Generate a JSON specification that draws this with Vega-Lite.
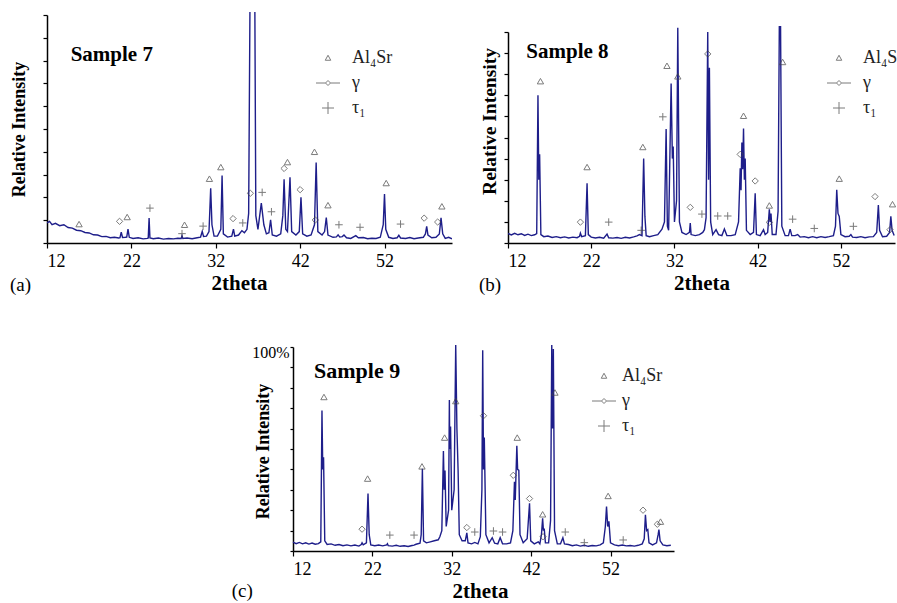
{
"$schema": "https://vega.github.io/schema/vega-lite/v6.json",
"padding": {"left": 10, "top": 12, "right": 0, "bottom": 0},
"config": {
  "view": {"stroke": null},
  "font": "Liberation Serif",
  "axis": {"grid": false, "domainColor": "black", "domainWidth": 1.5, "tickColor": "black", "tickWidth": 1.2, "labelFont": "Liberation Serif", "titleFont": "Liberation Serif", "labelColor": "black", "titleColor": "black"},
  "legend": {"labelFont": "Liberation Serif", "labelFontSize": 18, "labelColor": "#222", "padding": 0, "rowPadding": 7, "labelOffset": 15, "symbolStrokeColor": "#444", "symbolStrokeWidth": 1, "symbolFillColor": "transparent"}
},
"datasets": {
  "sa": [{"x":12.0,"y":8.8},{"x":12.3,"y":9.5},{"x":12.6,"y":8.0},{"x":13.0,"y":8.6},{"x":13.5,"y":7.6},{"x":14.0,"y":8.0},{"x":14.5,"y":6.8},{"x":15.0,"y":6.5},{"x":15.5,"y":5.6},{"x":16.0,"y":5.4},{"x":16.5,"y":4.6},{"x":17.0,"y":4.4},{"x":17.5,"y":3.6},{"x":18.0,"y":3.5},{"x":18.5,"y":2.8},{"x":19.0,"y":2.9},{"x":19.5,"y":2.3},{"x":20.0,"y":2.5},{"x":20.5,"y":2.2},{"x":20.65,"y":2.3},{"x":20.8,"y":4.8},{"x":20.95,"y":2.4},{"x":21.3,"y":2.5},{"x":21.45,"y":2.6},{"x":21.6,"y":6.1},{"x":21.75,"y":2.5},{"x":22.2,"y":2.0},{"x":22.8,"y":2.3},{"x":23.4,"y":1.8},{"x":23.9,"y":2.0},{"x":24.0,"y":2.2},{"x":24.1,"y":11},{"x":24.2,"y":2.2},{"x":24.6,"y":1.9},{"x":25.2,"y":2.2},{"x":25.8,"y":1.7},{"x":26.4,"y":2.0},{"x":27.0,"y":1.8},{"x":27.5,"y":2.1},{"x":27.9,"y":2.0},{"x":28.0,"y":3.2},{"x":28.1,"y":2.0},{"x":28.6,"y":2.2},{"x":29.2,"y":1.9},{"x":29.8,"y":2.3},{"x":30.2,"y":2.6},{"x":30.4,"y":5.1},{"x":30.55,"y":2.9},{"x":30.9,"y":3.0},{"x":31.2,"y":5.0},{"x":31.4,"y":24},{"x":31.55,"y":8},{"x":31.8,"y":3.0},{"x":32.2,"y":3.0},{"x":32.6,"y":6},{"x":32.75,"y":29.6},{"x":32.9,"y":4},{"x":33.4,"y":2.6},{"x":33.9,"y":3.0},{"x":34.1,"y":6.1},{"x":34.25,"y":3.0},{"x":34.7,"y":3.5},{"x":35.1,"y":5.4},{"x":35.4,"y":4.5},{"x":35.7,"y":6},{"x":35.9,"y":13},{"x":36.1,"y":130},{"x":36.6,"y":130},{"x":36.75,"y":12},{"x":37.0,"y":6},{"x":37.4,"y":17.5},{"x":37.7,"y":8},{"x":38.0,"y":4},{"x":38.3,"y":4.5},{"x":38.5,"y":10.2},{"x":38.7,"y":3.5},{"x":39.2,"y":3.0},{"x":39.7,"y":4.0},{"x":39.95,"y":12},{"x":40.1,"y":28},{"x":40.3,"y":6},{"x":40.5,"y":5},{"x":40.8,"y":28.8},{"x":41.0,"y":5},{"x":41.5,"y":3.5},{"x":41.9,"y":5},{"x":42.1,"y":20},{"x":42.3,"y":4},{"x":42.8,"y":3.0},{"x":43.3,"y":3.5},{"x":43.7,"y":8},{"x":43.9,"y":35.3},{"x":44.1,"y":5},{"x":44.6,"y":3.5},{"x":44.9,"y":5},{"x":45.1,"y":11.2},{"x":45.3,"y":3.5},{"x":45.9,"y":2.5},{"x":46.3,"y":2.7},{"x":46.5,"y":3.6},{"x":46.7,"y":2.6},{"x":47.0,"y":2.8},{"x":47.2,"y":3.5},{"x":47.5,"y":2.3},{"x":48.0,"y":2.0},{"x":48.6,"y":3.2},{"x":48.9,"y":2.3},{"x":49.5,"y":2.4},{"x":50.0,"y":1.9},{"x":50.5,"y":2.1},{"x":51.0,"y":2.0},{"x":51.5,"y":2.5},{"x":51.85,"y":8},{"x":52.0,"y":21.5},{"x":52.15,"y":6},{"x":52.5,"y":2.5},{"x":53.0,"y":2.0},{"x":53.5,"y":2.3},{"x":53.7,"y":3.4},{"x":53.9,"y":2.2},{"x":54.5,"y":2.0},{"x":55.0,"y":2.4},{"x":55.5,"y":1.9},{"x":56.0,"y":2.2},{"x":56.6,"y":2.5},{"x":56.85,"y":4},{"x":57.0,"y":7.3},{"x":57.15,"y":3.5},{"x":57.6,"y":2.3},{"x":58.1,"y":2.5},{"x":58.5,"y":4},{"x":58.7,"y":11},{"x":58.9,"y":4},{"x":59.2,"y":2.0},{"x":59.6,"y":2.5},{"x":60.0,"y":1.8}],
  "sb": [{"x":12.0,"y":4.5},{"x":12.4,"y":3.8},{"x":12.8,"y":4.6},{"x":13.2,"y":3.9},{"x":13.6,"y":4.4},{"x":14.0,"y":3.6},{"x":14.4,"y":4.2},{"x":14.8,"y":3.5},{"x":15.2,"y":3.9},{"x":15.45,"y":4.5},{"x":15.6,"y":70},{"x":15.7,"y":30},{"x":15.8,"y":42},{"x":15.95,"y":4},{"x":16.3,"y":3.0},{"x":16.8,"y":3.3},{"x":17.3,"y":2.6},{"x":17.8,"y":3.0},{"x":18.3,"y":2.5},{"x":18.8,"y":2.9},{"x":19.3,"y":2.4},{"x":19.8,"y":2.8},{"x":20.3,"y":2.5},{"x":20.6,"y":3.2},{"x":20.7,"y":4.7},{"x":20.85,"y":3.0},{"x":21.3,"y":3.5},{"x":21.5,"y":28.3},{"x":21.65,"y":4},{"x":22.0,"y":2.8},{"x":22.5,"y":2.4},{"x":23.0,"y":2.7},{"x":23.5,"y":2.3},{"x":23.9,"y":4.2},{"x":24.1,"y":2.5},{"x":24.6,"y":2.3},{"x":25.1,"y":2.6},{"x":25.6,"y":2.2},{"x":26.1,"y":2.7},{"x":26.6,"y":2.4},{"x":27.1,"y":2.9},{"x":27.5,"y":3.4},{"x":27.8,"y":4.0},{"x":28.1,"y":3.5},{"x":28.3,"y":40},{"x":28.45,"y":12.6},{"x":28.6,"y":3.5},{"x":29.0,"y":3.0},{"x":29.5,"y":3.5},{"x":30.0,"y":4.0},{"x":30.5,"y":6.5},{"x":30.8,"y":10},{"x":31.0,"y":54},{"x":31.15,"y":8},{"x":31.3,"y":6},{"x":31.6,"y":75.6},{"x":31.75,"y":40},{"x":31.85,"y":45.7},{"x":32.0,"y":10},{"x":32.25,"y":20},{"x":32.4,"y":102},{"x":32.6,"y":10},{"x":32.9,"y":5},{"x":33.4,"y":4},{"x":33.8,"y":5},{"x":33.9,"y":9.4},{"x":34.0,"y":4},{"x":34.5,"y":3.5},{"x":35.0,"y":4},{"x":35.4,"y":5},{"x":35.6,"y":6.3},{"x":35.8,"y":12},{"x":36.0,"y":100},{"x":36.1,"y":30},{"x":36.2,"y":83},{"x":36.35,"y":10},{"x":36.6,"y":4},{"x":37.0,"y":6.3},{"x":37.3,"y":4},{"x":37.7,"y":3.5},{"x":38.0,"y":6.6},{"x":38.3,"y":3.5},{"x":38.8,"y":3.5},{"x":39.3,"y":4},{"x":39.7,"y":10},{"x":39.9,"y":35.4},{"x":40.0,"y":25},{"x":40.1,"y":47.6},{"x":40.2,"y":35},{"x":40.3,"y":54.3},{"x":40.4,"y":30},{"x":40.5,"y":40},{"x":40.65,"y":6},{"x":41.1,"y":4},{"x":41.5,"y":5},{"x":41.7,"y":23.6},{"x":41.85,"y":4},{"x":42.3,"y":3.5},{"x":42.7,"y":6.3},{"x":42.9,"y":4},{"x":43.2,"y":5},{"x":43.4,"y":16},{"x":43.5,"y":10},{"x":43.6,"y":14},{"x":43.75,"y":4},{"x":44.2,"y":4},{"x":44.45,"y":15},{"x":44.6,"y":102.5},{"x":44.75,"y":102.5},{"x":44.9,"y":8},{"x":45.3,"y":3.5},{"x":45.7,"y":3.5},{"x":45.9,"y":6.6},{"x":46.1,"y":3.5},{"x":46.5,"y":3.5},{"x":46.8,"y":4},{"x":47.1,"y":2.8},{"x":47.6,"y":3.0},{"x":48.1,"y":2.5},{"x":48.6,"y":3.0},{"x":49.1,"y":2.5},{"x":49.6,"y":3.0},{"x":50.1,"y":2.6},{"x":50.6,"y":3.0},{"x":51.1,"y":3.5},{"x":51.35,"y":8},{"x":51.5,"y":25.2},{"x":51.65,"y":14},{"x":51.8,"y":12.6},{"x":52.0,"y":4},{"x":52.5,"y":3.0},{"x":53.0,"y":3.2},{"x":53.2,"y":4},{"x":53.4,"y":2.8},{"x":53.9,"y":2.6},{"x":54.4,"y":3.0},{"x":54.9,"y":2.5},{"x":55.4,"y":2.9},{"x":55.9,"y":3.0},{"x":56.3,"y":5},{"x":56.5,"y":18},{"x":56.65,"y":6},{"x":57.0,"y":3},{"x":57.5,"y":3.2},{"x":57.85,"y":5},{"x":58.0,"y":12.6},{"x":58.15,"y":6},{"x":58.4,"y":3.5}],
  "sc": [{"x":12.0,"y":4.4},{"x":12.4,"y":3.6},{"x":12.8,"y":4.2},{"x":13.2,"y":3.5},{"x":13.6,"y":4.0},{"x":14.0,"y":3.4},{"x":14.4,"y":3.9},{"x":14.8,"y":3.3},{"x":15.2,"y":3.6},{"x":15.5,"y":4.5},{"x":15.65,"y":68.9},{"x":15.75,"y":40},{"x":15.85,"y":46},{"x":16.0,"y":5},{"x":16.3,"y":3.2},{"x":16.8,"y":3.5},{"x":17.3,"y":2.8},{"x":17.8,"y":3.2},{"x":18.3,"y":2.6},{"x":18.8,"y":3.0},{"x":19.3,"y":2.5},{"x":19.8,"y":2.9},{"x":20.3,"y":2.4},{"x":20.6,"y":3.2},{"x":20.7,"y":4.0},{"x":20.85,"y":3.0},{"x":21.25,"y":4},{"x":21.45,"y":28.2},{"x":21.6,"y":8},{"x":21.8,"y":3},{"x":22.3,"y":2.6},{"x":22.8,"y":2.9},{"x":23.3,"y":2.5},{"x":23.8,"y":3.0},{"x":23.9,"y":3.6},{"x":24.0,"y":2.6},{"x":24.5,"y":2.4},{"x":25.0,"y":2.8},{"x":25.5,"y":2.3},{"x":26.0,"y":2.6},{"x":26.5,"y":2.2},{"x":27.0,"y":2.7},{"x":27.25,"y":2.9},{"x":27.5,"y":3.3},{"x":28.0,"y":3.8},{"x":28.15,"y":8},{"x":28.3,"y":40.3},{"x":28.45,"y":5},{"x":28.8,"y":4},{"x":29.3,"y":4.5},{"x":29.8,"y":5},{"x":30.3,"y":5.5},{"x":30.5,"y":7},{"x":30.75,"y":10},{"x":30.95,"y":49},{"x":31.05,"y":30},{"x":31.15,"y":39.5},{"x":31.3,"y":12},{"x":31.6,"y":20},{"x":31.7,"y":74},{"x":31.75,"y":50},{"x":31.85,"y":61},{"x":32.0,"y":20},{"x":32.3,"y":30},{"x":32.5,"y":101},{"x":32.65,"y":60},{"x":32.8,"y":39.5},{"x":32.95,"y":8},{"x":33.3,"y":5},{"x":33.7,"y":5},{"x":33.9,"y":8.9},{"x":34.05,"y":4},{"x":34.5,"y":3.5},{"x":34.9,"y":4.2},{"x":35.3,"y":3.5},{"x":35.6,"y":7},{"x":35.8,"y":30},{"x":35.9,"y":98.4},{"x":36.0,"y":40},{"x":36.1,"y":55.6},{"x":36.3,"y":8},{"x":36.7,"y":4},{"x":37.1,"y":6.5},{"x":37.4,"y":3.8},{"x":37.8,"y":3.5},{"x":38.1,"y":6.5},{"x":38.4,"y":3.5},{"x":38.9,"y":3.5},{"x":39.4,"y":4},{"x":39.7,"y":10},{"x":39.9,"y":33.9},{"x":40.0,"y":25},{"x":40.2,"y":51.6},{"x":40.3,"y":40},{"x":40.45,"y":39.5},{"x":40.6,"y":8},{"x":41.0,"y":4},{"x":41.5,"y":6},{"x":41.8,"y":23.4},{"x":41.95,"y":5},{"x":42.4,"y":3.5},{"x":42.9,"y":4.5},{"x":43.1,"y":3.5},{"x":43.3,"y":8},{"x":43.45,"y":16},{"x":43.55,"y":10},{"x":43.65,"y":11},{"x":43.8,"y":4},{"x":44.2,"y":4},{"x":44.45,"y":15},{"x":44.6,"y":101},{"x":44.7,"y":60},{"x":44.8,"y":99},{"x":44.95,"y":10},{"x":45.3,"y":3.5},{"x":45.7,"y":3.5},{"x":46.0,"y":6.5},{"x":46.2,"y":3.5},{"x":46.7,"y":3.2},{"x":47.2,"y":2.6},{"x":47.7,"y":3.0},{"x":48.2,"y":2.4},{"x":48.7,"y":2.8},{"x":49.2,"y":2.3},{"x":49.7,"y":2.7},{"x":50.2,"y":2.5},{"x":50.7,"y":3.0},{"x":51.1,"y":4},{"x":51.35,"y":12},{"x":51.5,"y":21.8},{"x":51.65,"y":12},{"x":51.8,"y":14.5},{"x":52.0,"y":4},{"x":52.5,"y":3.0},{"x":53.0,"y":2.6},{"x":53.5,"y":2.9},{"x":54.0,"y":2.5},{"x":54.5,"y":2.7},{"x":55.0,"y":2.4},{"x":55.5,"y":2.8},{"x":56.0,"y":3.5},{"x":56.25,"y":6},{"x":56.4,"y":17.7},{"x":56.55,"y":10},{"x":56.7,"y":10.5},{"x":56.85,"y":4},{"x":57.3,"y":3},{"x":57.8,"y":4},{"x":58.0,"y":8},{"x":58.1,"y":10.5},{"x":58.25,"y":5},{"x":58.6,"y":3.0},{"x":59.1,"y":2.6},{"x":59.6,"y":2.8}],
  "ma": [{"x":15.8,"y":8.3,"p":"Al₄Sr"},{"x":21.5,"y":11.4,"p":"Al₄Sr"},{"x":28.3,"y":8.0,"p":"Al₄Sr"},{"x":31.25,"y":28.2,"p":"Al₄Sr"},{"x":32.6,"y":33.3,"p":"Al₄Sr"},{"x":40.5,"y":35.5,"p":"Al₄Sr"},{"x":43.7,"y":40,"p":"Al₄Sr"},{"x":45.3,"y":16.6,"p":"Al₄Sr"},{"x":52.2,"y":26.3,"p":"Al₄Sr"},{"x":58.8,"y":16.1,"p":"Al₄Sr"},
         {"x":20.6,"y":9.5,"p":"γ"},{"x":34.05,"y":10.7,"p":"γ"},{"x":36.1,"y":21.8,"p":"γ"},{"x":40.1,"y":32.7,"p":"γ"},{"x":42.0,"y":23.4,"p":"γ"},{"x":43.8,"y":10.1,"p":"γ"},{"x":56.7,"y":10.9,"p":"γ"},{"x":58.3,"y":9.2,"p":"γ"},
         {"x":24.2,"y":15.3,"p":"τ₁"},{"x":28.0,"y":4.1,"p":"τ₁"},{"x":30.5,"y":7.4,"p":"τ₁"},{"x":35.2,"y":8.8,"p":"τ₁"},{"x":37.5,"y":22.2,"p":"τ₁"},{"x":38.6,"y":13.7,"p":"τ₁"},{"x":46.6,"y":8.0,"p":"τ₁"},{"x":49.1,"y":6.9,"p":"τ₁"},{"x":53.9,"y":8.3,"p":"τ₁"}],
  "mb": [{"x":15.9,"y":76.7,"p":"Al₄Sr"},{"x":21.5,"y":36,"p":"Al₄Sr"},{"x":28.2,"y":45.5,"p":"Al₄Sr"},{"x":31.1,"y":84,"p":"Al₄Sr"},{"x":32.4,"y":79,"p":"Al₄Sr"},{"x":40.3,"y":60.3,"p":"Al₄Sr"},{"x":43.4,"y":17.8,"p":"Al₄Sr"},{"x":45.0,"y":85.8,"p":"Al₄Sr"},{"x":51.8,"y":30.5,"p":"Al₄Sr"},{"x":58.2,"y":18.4,"p":"Al₄Sr"},
         {"x":20.7,"y":9.9,"p":"γ"},{"x":33.9,"y":16.9,"p":"γ"},{"x":36.0,"y":89.6,"p":"γ"},{"x":39.9,"y":42,"p":"γ"},{"x":41.7,"y":29.4,"p":"γ"},{"x":43.4,"y":9.8,"p":"γ"},{"x":56.1,"y":22,"p":"γ"},{"x":57.9,"y":6.3,"p":"γ"},
         {"x":24.1,"y":9.9,"p":"τ₁"},{"x":28.0,"y":6.0,"p":"τ₁"},{"x":30.6,"y":59.8,"p":"τ₁"},{"x":35.3,"y":13.7,"p":"τ₁"},{"x":37.2,"y":12.8,"p":"τ₁"},{"x":38.4,"y":12.8,"p":"τ₁"},{"x":46.2,"y":11.3,"p":"τ₁"},{"x":48.8,"y":6.9,"p":"τ₁"},{"x":53.5,"y":7.9,"p":"τ₁"}],
  "mc": [{"x":15.9,"y":75.5,"p":"Al₄Sr"},{"x":21.4,"y":35.5,"p":"Al₄Sr"},{"x":28.25,"y":41.5,"p":"Al₄Sr"},{"x":31.1,"y":55.6,"p":"Al₄Sr"},{"x":32.5,"y":73.5,"p":"Al₄Sr"},{"x":40.25,"y":55.6,"p":"Al₄Sr"},{"x":43.45,"y":18,"p":"Al₄Sr"},{"x":45.0,"y":77.7,"p":"Al₄Sr"},{"x":51.7,"y":27,"p":"Al₄Sr"},{"x":58.3,"y":14.4,"p":"Al₄Sr"},
         {"x":20.7,"y":10.7,"p":"γ"},{"x":33.9,"y":11.5,"p":"γ"},{"x":36.0,"y":66.3,"p":"γ"},{"x":39.75,"y":37.1,"p":"γ"},{"x":41.8,"y":25.7,"p":"γ"},{"x":43.5,"y":7,"p":"γ"},{"x":56.1,"y":20,"p":"γ"},{"x":57.9,"y":13.1,"p":"γ"},
         {"x":24.2,"y":7.8,"p":"τ₁"},{"x":27.25,"y":7.8,"p":"τ₁"},{"x":34.9,"y":9.3,"p":"τ₁"},{"x":37.25,"y":9.8,"p":"τ₁"},{"x":38.4,"y":9.3,"p":"τ₁"},{"x":46.3,"y":9.3,"p":"τ₁"},{"x":48.7,"y":4.1,"p":"τ₁"},{"x":53.6,"y":5.4,"p":"τ₁"}]
},
"vconcat": [
  {
    "hconcat": [
      {
        "width": 405, "height": 231,
        "title": {"text": "(a)", "orient": "bottom", "anchor": "start", "frame": "bounds", "offset": -17, "font": "Liberation Serif", "fontSize": 19, "fontWeight": "normal", "color": "black"},
        "resolve": {"scale": {"shape": "independent"}},
        "layer": [
          {"data": {"name": "sa"}, "mark": {"type": "line", "color": "#1e1e8a", "strokeWidth": 1.4, "clip": true},
           "encoding": {
             "x": {"field": "x", "type": "quantitative", "scale": {"domain": [12, 60], "nice": false, "zero": false}, "axis": {"values": [12,22,32,42,52], "title": "2theta", "titleFontSize": 21, "titleFontWeight": "bold", "titleX": 192, "labelFontSize": 18, "tickSize": 5, "labelPadding": 4, "titlePadding": 2}},
             "y": {"field": "y", "type": "quantitative", "scale": {"domain": [0, 100], "range": [231, 3]}, "axis": {"values": [0,10,20,30,40,50,60,70,80,90,100], "tickCount": 11, "labels": false, "title": "Relative Intensity", "titleFontSize": 18, "titleFontWeight": "bold", "tickSize": 4, "titleX": -19, "titleY": 117}}
           }},
          {"data": {"name": "ma"}, "mark": {"type": "point", "filled": false, "color": "#444", "size": 40, "strokeWidth": 1},
           "encoding": {
             "x": {"field": "x", "type": "quantitative"},
             "y": {"field": "y", "type": "quantitative"},
             "shape": {"field": "p", "type": "nominal", "scale": {"domain": ["Al₄Sr", "γ", "τ₁"], "range": ["triangle-up", "diamond", "M-1.2,0L1.2,0M0,-1.2L0,1.2"]}, "legend": null}
           }},
          {"data": {"name": "ma"}, "transform": [{"filter": "false"}], "mark": {"type": "point", "filled": false, "color": "#444", "size": 100, "strokeWidth": 1},
           "encoding": {
             "x": {"field": "x", "type": "quantitative"},
             "y": {"field": "y", "type": "quantitative"},
             "shape": {"field": "p", "type": "nominal", "scale": {"domain": ["Al₄Sr", "γ", "τ₁"], "range": ["M0,-0.55L0.55,0.45L-0.55,0.45Z", "M-2.4,0L-0.5,0M0.5,0L2.4,0M-0.5,0L0,-0.5L0.5,0L0,0.5Z", "M-1.2,0L1.2,0M0,-1.2L0,1.2"]},
               "legend": {"title": null, "orient": "none", "legendX": 272, "legendY": 37}}
           }},
          {"data": {"values": [{}]}, "mark": {"type": "text", "font": "Liberation Serif", "fontSize": 21, "fontWeight": "bold", "align": "left", "baseline": "middle", "color": "black"},
           "encoding": {"x": {"datum": 14.8}, "y": {"datum": 82.5}, "text": {"value": "Sample 7"}}}
        ]
      },
      {
        "width": 387, "height": 231,
        "title": {"text": "(b)", "orient": "bottom", "anchor": "start", "frame": "bounds", "offset": -17, "font": "Liberation Serif", "fontSize": 19, "fontWeight": "normal", "color": "black"},
        "resolve": {"scale": {"shape": "independent"}},
        "layer": [
          {"data": {"name": "sb"}, "mark": {"type": "line", "color": "#1e1e8a", "strokeWidth": 1.4, "clip": true},
           "encoding": {
             "x": {"field": "x", "type": "quantitative", "scale": {"domain": [12, 58.5], "nice": false, "zero": false}, "axis": {"values": [12,22,32,42,52], "title": "2theta", "titleFontSize": 21, "titleFontWeight": "bold", "labelFontSize": 18, "tickSize": 5, "labelPadding": 4, "titlePadding": 2}},
             "y": {"field": "y", "type": "quantitative", "scale": {"domain": [0, 100], "range": [231, 20]}, "axis": {"values": [0,10,20,30,40,50,60,70,80,90,100], "tickCount": 11, "labels": false, "title": "Relative Intensity", "titleFontSize": 19.5, "titleFontWeight": "bold", "tickSize": 4, "titleX": -9, "titleY": 109}}
           }},
          {"data": {"name": "mb"}, "mark": {"type": "point", "filled": false, "color": "#444", "size": 40, "strokeWidth": 1},
           "encoding": {
             "x": {"field": "x", "type": "quantitative"},
             "y": {"field": "y", "type": "quantitative"},
             "shape": {"field": "p", "type": "nominal", "scale": {"domain": ["Al₄Sr", "γ", "τ₁"], "range": ["triangle-up", "diamond", "M-1.2,0L1.2,0M0,-1.2L0,1.2"]}, "legend": null}
           }},
          {"data": {"name": "mb"}, "transform": [{"filter": "false"}], "mark": {"type": "point", "filled": false, "color": "#444", "size": 100, "strokeWidth": 1},
           "encoding": {
             "x": {"field": "x", "type": "quantitative"},
             "y": {"field": "y", "type": "quantitative"},
             "shape": {"field": "p", "type": "nominal", "scale": {"domain": ["Al₄Sr", "γ", "τ₁"], "range": ["M0,-0.55L0.55,0.45L-0.55,0.45Z", "M-2.4,0L-0.5,0M0.5,0L2.4,0M-0.5,0L0,-0.5L0.5,0L0,0.5Z", "M-1.2,0L1.2,0M0,-1.2L0,1.2"]},
               "legend": {"title": null, "orient": "none", "legendX": 322, "legendY": 37, "labelLimit": 50}}
           }},
          {"data": {"values": [{}]}, "mark": {"type": "text", "font": "Liberation Serif", "fontSize": 21, "fontWeight": "bold", "align": "left", "baseline": "middle", "color": "black"},
           "encoding": {"x": {"datum": 14.2}, "y": {"datum": 90.5}, "text": {"value": "Sample 8"}}}
        ]
      }
    ],
    "spacing": 27,
    "resolve": {"scale": {"shape": "independent", "x": "independent", "y": "independent"}, "legend": {"shape": "independent"}}
  },
  {
    "hconcat": [
      {"width": 184, "height": 10, "data": {"values": [{}]}, "mark": {"type": "text"}, "encoding": {"text": {"value": ""}}},
      {
        "width": 381, "height": 204,
        "title": {"text": "(c)", "orient": "bottom", "anchor": "start", "frame": "bounds", "offset": -19, "dx": -20, "font": "Liberation Serif", "fontSize": 19, "fontWeight": "normal", "color": "black"},
        "resolve": {"scale": {"shape": "independent"}},
        "layer": [
          {"data": {"name": "sc"}, "mark": {"type": "line", "color": "#1e1e8a", "strokeWidth": 1.4},
           "encoding": {
             "x": {"field": "x", "type": "quantitative", "scale": {"domain": [12, 60], "nice": false, "zero": false}, "axis": {"values": [12,22,32,42,52], "title": "2theta", "titleFontSize": 21, "titleFontWeight": "bold", "titleX": 187, "labelFontSize": 18, "tickSize": 5, "labelPadding": 4, "titlePadding": 2}},
             "y": {"field": "y", "type": "quantitative", "scale": {"domain": [0, 100]}, "axis": {"values": [0,10,20,30,40,50,60,70,80,90,100], "tickCount": 11, "labelExpr": "datum.value == 100 ? '100%' : ''", "labelFontSize": 16, "labelBaseline": "middle", "labelOffset": 5, "labelPadding": 1, "title": "Relative Intensity", "titleFontSize": 18, "titleFontWeight": "bold", "tickSize": 3, "titleX": -21, "titleY": 104}}
           }},
          {"data": {"name": "mc"}, "mark": {"type": "point", "filled": false, "color": "#444", "size": 40, "strokeWidth": 1},
           "encoding": {
             "x": {"field": "x", "type": "quantitative"},
             "y": {"field": "y", "type": "quantitative"},
             "shape": {"field": "p", "type": "nominal", "scale": {"domain": ["Al₄Sr", "γ", "τ₁"], "range": ["triangle-up", "diamond", "M-1.2,0L1.2,0M0,-1.2L0,1.2"]}, "legend": null}
           }},
          {"data": {"name": "mc"}, "transform": [{"filter": "false"}], "mark": {"type": "point", "filled": false, "color": "#444", "size": 100, "strokeWidth": 1},
           "encoding": {
             "x": {"field": "x", "type": "quantitative"},
             "y": {"field": "y", "type": "quantitative"},
             "shape": {"field": "p", "type": "nominal", "scale": {"domain": ["Al₄Sr", "γ", "τ₁"], "range": ["M0,-0.55L0.55,0.45L-0.55,0.45Z", "M-2.4,0L-0.5,0M0.5,0L2.4,0M-0.5,0L0,-0.5L0.5,0L0,0.5Z", "M-1.2,0L1.2,0M0,-1.2L0,1.2"]},
               "legend": {"title": null, "orient": "none", "legendX": 302, "legendY": 20, "labelOffset": 9}}
           }},
          {"data": {"values": [{}]}, "mark": {"type": "text", "font": "Liberation Serif", "fontSize": 22, "fontWeight": "bold", "align": "left", "baseline": "middle", "color": "black"},
           "encoding": {"x": {"datum": 14.65}, "y": {"datum": 88.2}, "text": {"value": "Sample 9"}}}
        ]
      }
    ],
    "spacing": 0,
    "resolve": {"scale": {"shape": "independent", "x": "independent", "y": "independent"}, "legend": {"shape": "independent"}}
  }
],
"spacing": 47,
"resolve": {"scale": {"shape": "independent", "x": "independent", "y": "independent"}, "legend": {"shape": "independent"}}
}
